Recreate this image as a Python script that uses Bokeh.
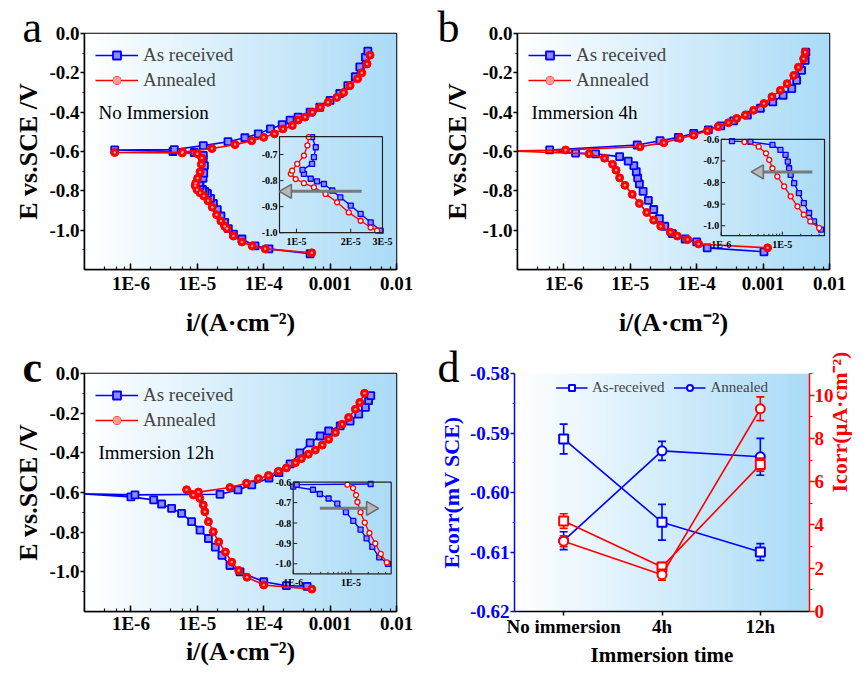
import numpy as np
from bokeh.plotting import figure
from bokeh.models import (Range1d, LogScale, LinearScale, LogAxis, LinearAxis, LogTicker,
                          SingleIntervalTicker, FixedTicker, CustomJSTickFormatter,
                          PrintfTickFormatter, Legend, LegendItem, Label)
from bokeh.layouts import column, row
from bokeh.embed import file_html
from bokeh.resources import INLINE
from bokeh.core.properties import value

FONT = "Liberation Serif"
BLUE = "#0000ff"
RED = "#ff0000"
GRAY = "#7a7a7a"
SQ_FILL = "#8c8cff"

# ---------------- data ----------------
# Panel a : no immersion
A_AR_I = [5.0e-4, 1.2e-4, 7.4e-5, 4.7e-5, 3.5e-5, 2.93e-5, 2.58e-5, 2.27e-5, 2.0e-5, 1.75e-5,
          1.58e-5, 1.42e-5, 1.3e-5, 1.2e-5, 1.1e-5, 1.08e-5, 1.22e-5, 1.25e-5, 1.28e-5, 1.22e-5,
          1.23e-5, 9.0e-6, 4.3e-6, 5.7e-7, 4.5e-6, 1.23e-5, 2.9e-5, 5.2e-5, 8.3e-5, 1.26e-4,
          1.9e-4, 2.5e-4, 3.3e-4, 5.0e-4, 7.0e-4, 1.0e-3, 1.4e-3, 1.85e-3, 2.4e-3, 2.8e-3,
          3.4e-3, 3.7e-3]
A_AR_E = [-1.12, -1.095, -1.08, -1.045, -1.02, -0.992, -0.96, -0.928, -0.896, -0.864,
          -0.838, -0.813, -0.803, -0.793, -0.774, -0.759, -0.736, -0.71, -0.672, -0.633,
          -0.62, -0.605, -0.60, -0.592, -0.59, -0.57, -0.55, -0.53, -0.51, -0.485,
          -0.463, -0.44, -0.425, -0.40, -0.375, -0.34, -0.305, -0.265, -0.22, -0.17,
          -0.12, -0.09]
A_AN_I = [5.3e-4, 1.05e-4, 6.7e-5, 4.7e-5, 3.5e-5, 2.8e-5, 2.58e-5, 2.27e-5, 1.95e-5, 1.68e-5,
          1.45e-5, 1.25e-5, 1.1e-5, 9.9e-6, 9.3e-6, 9.46e-6, 1.01e-5, 1.1e-5, 1.15e-5, 1.17e-5,
          1.0e-5, 5.9e-6, 5.7e-7, 6.0e-6, 1.66e-5, 3.7e-5, 6.6e-5, 1.0e-4, 1.45e-4, 1.95e-4,
          2.7e-4, 3.3e-4, 4.2e-4, 5.4e-4, 7.1e-4, 9.3e-4, 1.26e-3, 1.6e-3, 2.0e-3, 2.6e-3,
          3.0e-3, 3.6e-3, 4.0e-3]
A_AN_E = [-1.115, -1.095, -1.08, -1.06, -1.03, -0.992, -0.98, -0.954, -0.922, -0.883,
          -0.851, -0.826, -0.81, -0.794, -0.774, -0.762, -0.736, -0.704, -0.665, -0.633,
          -0.612, -0.607, -0.605, -0.603, -0.585, -0.565, -0.545, -0.528, -0.51, -0.485,
          -0.468, -0.44, -0.425, -0.40, -0.375, -0.35, -0.325, -0.30, -0.265, -0.23,
          -0.20, -0.155, -0.11]

# Panel b : immersion 4 h
B_AR_I = [1.03e-3, 1.44e-4, 1.0e-4, 6.7e-5, 4.3e-5, 3.3e-5, 2.74e-5, 2.25e-5, 1.87e-5, 1.56e-5,
          1.37e-5, 1.29e-5, 1.23e-5, 1.13e-5, 9.3e-6, 6.9e-6, 3.0e-6, 1.5e-6, 6.1e-7, 1.27e-5,
          2.8e-5, 5.3e-5, 9.0e-5, 1.5e-4, 2.3e-4, 3.6e-4, 5.8e-4, 9.1e-4, 1.4e-3, 2.0e-3,
          2.7e-3, 3.2e-3, 3.8e-3, 4.3e-3, 4.4e-3]
B_AR_E = [-1.11, -1.09, -1.06, -1.045, -1.018, -0.98, -0.941, -0.895, -0.849, -0.803,
          -0.765, -0.734, -0.703, -0.672, -0.649, -0.626, -0.612, -0.608, -0.592, -0.567,
          -0.545, -0.528, -0.508, -0.49, -0.47, -0.444, -0.415, -0.38, -0.348, -0.314,
          -0.28, -0.238, -0.187, -0.137, -0.095]
B_AN_I = [1.17e-3, 1.07e-4, 7.3e-5, 5.1e-5, 4.0e-5, 2.87e-5, 2.25e-5, 1.77e-5, 1.37e-5, 1.07e-5,
          8.3e-6, 6.9e-6, 6.1e-6, 5.4e-6, 4.1e-6, 2.4e-6, 1.5e-7, 1.06e-6, 1.4e-5, 3.2e-5,
          5.6e-5, 9.0e-5, 1.45e-4, 2.1e-4, 3.0e-4, 4.0e-4, 5.4e-4, 7.2e-4, 1.03e-3, 1.36e-3,
          1.82e-3, 2.3e-3, 2.9e-3, 3.4e-3, 4.07e-3, 4.3e-3]
B_AN_E = [-1.09, -1.07, -1.048, -1.03, -1.01, -0.98, -0.949, -0.91, -0.864, -0.818,
          -0.772, -0.734, -0.695, -0.665, -0.634, -0.612, -0.597, -0.592, -0.576, -0.555,
          -0.533, -0.517, -0.495, -0.474, -0.454, -0.432, -0.415, -0.39, -0.356, -0.322,
          -0.289, -0.255, -0.213, -0.171, -0.128, -0.095]

# Panel c : immersion 12 h
C_AR_I = [4.5e-4, 2.2e-4, 1.0e-4, 4.4e-5, 3.1e-5, 2.35e-5, 1.87e-5, 1.47e-5, 1.1e-5, 8.2e-6,
          5.8e-6, 4.1e-6, 2.9e-6, 2.2e-6, 1.0e-6, 1.5e-7, 1.15e-6, 2.2e-5, 4.1e-5, 6.6e-5,
          1.2e-4, 1.7e-4, 2.5e-4, 3.5e-4, 5.0e-4, 7.1e-4, 9.5e-4, 1.42e-3, 2.0e-3, 2.7e-3,
          3.4e-3, 3.8e-3, 4.1e-3]
C_AR_E = [-1.073, -1.07, -1.05, -1.0, -0.968, -0.917, -0.875, -0.832, -0.79, -0.747,
          -0.705, -0.68, -0.658, -0.637, -0.622, -0.605, -0.612, -0.609, -0.587, -0.562,
          -0.527, -0.50, -0.456, -0.40, -0.35, -0.315, -0.29, -0.264, -0.24, -0.205,
          -0.171, -0.137, -0.112]
C_AN_I = [5.3e-4, 1.0e-4, 5.6e-5, 4.2e-5, 3.3e-5, 2.65e-5, 2.1e-5, 1.74e-5, 1.47e-5, 1.3e-5,
          1.23e-5, 1.09e-5, 8.7e-6, 6.9e-6, 1.04e-5, 3.1e-5, 5.5e-5, 8.3e-5, 1.18e-4, 1.67e-4,
          2.2e-4, 3.0e-4, 3.7e-4, 4.7e-4, 6.0e-4, 7.6e-4, 9.5e-4, 1.2e-3, 1.52e-3, 1.9e-3,
          2.4e-3, 2.8e-3, 3.3e-3]
C_AN_E = [-1.087, -1.066, -1.027, -0.993, -0.951, -0.90, -0.849, -0.798, -0.747, -0.697,
          -0.663, -0.629, -0.612, -0.586, -0.598, -0.575, -0.553, -0.53, -0.514, -0.493,
          -0.476, -0.45, -0.429, -0.407, -0.386, -0.361, -0.332, -0.298, -0.256, -0.222,
          -0.18, -0.146, -0.10]

# inset tick values / labels
INSET_A_XTICKS = [1e-5, 2e-5, 3e-5]
INSET_A_XLABELS = ["1E-5", "2E-5", "3E-5"]
INSET_A_YTICKS = [-0.7, -0.8, -0.9, -1.0]
INSET_A_YLABELS = ["-0.7", "-0.8", "-0.9", "-1.0"]
INSET_BC_XTICKS = [1e-6, 1e-5]
INSET_BC_XLABELS = ["1E-6", "1E-5"]
INSET_BC_XMINOR = [2e-6, 3e-6, 4e-6, 5e-6, 6e-6, 7e-6, 8e-6, 9e-6, 2e-5, 3e-5, 4e-5]
INSET_BC_YTICKS = [-0.6, -0.7, -0.8, -0.9, -1.0]
INSET_BC_YLABELS = ["-0.6", "-0.7", "-0.8", "-0.9", "-1.0"]

# Panel d : corrosion parameters
TIMES = ["No immersion", "4h", "12h"]
ECORR_AR = [-0.5910, -0.6050, -0.6100]
ECORR_AR_ERR = [0.0025, 0.0030, 0.0014]
ECORR_AN = [-0.6081, -0.5930, -0.5940]
ECORR_AN_ERR = [0.0015, 0.0016, 0.0031]
ICORR_AR = [4.18, 2.06, 6.79]
ICORR_AR_ERR = [0.34, 0.20, 0.30]
ICORR_AN = [3.25, 1.70, 9.37]
ICORR_AN_ERR = [0.25, 0.25, 0.55]

# ---------------- helpers ----------------
LOG_JS = """
const e = Math.round(Math.log10(tick));
if (e >= -3) { return Math.pow(10, e).toFixed(-e); }
return "1E" + e;
"""


def gradient():
    n = 256
    t = np.linspace(0.0, 1.0, n)
    img = np.empty((1, n), dtype=np.uint32)
    v = img.view(dtype=np.uint8).reshape((1, n, 4))
    v[0, :, 0] = np.round(255 + (170 - 255) * t).astype(np.uint8)
    v[0, :, 1] = np.round(255 + (219 - 255) * t).astype(np.uint8)
    v[0, :, 2] = np.round(255 + (247 - 255) * t).astype(np.uint8)
    v[0, :, 3] = 255
    return img


def style_axis(ax, color="black", tick_size="19px", label_size="26px"):
    ax.major_label_text_font = FONT
    ax.major_label_text_font_style = "bold"
    ax.major_label_text_font_size = tick_size
    ax.major_label_text_color = color
    ax.axis_label_text_font = FONT
    ax.axis_label_text_font_style = "bold"
    ax.axis_label_text_font_size = label_size
    ax.axis_label_text_color = color
    ax.axis_line_color = color
    ax.axis_line_width = 1.5
    ax.major_tick_line_color = color
    ax.major_tick_line_width = 1.5
    ax.minor_tick_line_color = color
    ax.minor_tick_line_width = 1.2


def set_letter(p, letter, style, dx):
    t = p.title
    t.text = letter
    t.align = "left"
    t.offset = dx
    t.vertical_align = "bottom"
    t.text_font = FONT
    t.text_font_size = "44px"
    t.text_font_style = style
    t.text_color = "black"
    try:
        t.standoff = -37
    except Exception:
        t.standoff = 0


def inset(p, xr, yr, xt, yt, curves, xticks, xlabels, yticks, ylabels, xminor, arrow):
    # decades are laid out linearly inside the inset box (log axis of the inset)
    lx = (np.log10(xr[0]), np.log10(xr[1]))
    sub = p.subplot(x_source=Range1d(*lx), y_source=Range1d(*yr),
                    x_scale=LinearScale(), y_scale=LinearScale(),
                    x_target=Range1d(*xt), y_target=Range1d(*yt))
    for (ci, ce, color, marker) in curves:
        ci = np.asarray(ci, dtype=float)
        ce = np.asarray(ce, dtype=float)
        inside = (ci >= xr[0]) & (ci <= xr[1]) & (ce >= yr[0]) & (ce <= yr[1])
        xi = np.where(inside, np.log10(ci), np.nan)
        ye = np.where(inside, ce, np.nan)
        sub.line(xi, ye, line_color=color, line_width=1.3)
        if marker == "square":
            sub.scatter(xi, ye, marker="square", size=5, line_color=color,
                        fill_color=SQ_FILL, line_width=1.3)
        else:
            sub.scatter(xi, ye, marker="circle", size=5, line_color=color,
                        fill_color="white", line_width=1.3)
    sub.quad(left=[lx[0]], right=[lx[1]], bottom=[yr[0]], top=[yr[1]],
             fill_color=None, line_color="#222222", line_width=1.2)
    lt = list(np.log10(xticks))
    sub.ray(x=[lx[0]] * len(yticks), y=yticks, length=4, length_units="screen",
            angle=0.0, line_color="#222222", line_width=1)
    sub.ray(x=lt, y=[yr[0]] * len(lt), length=4, length_units="screen",
            angle=np.pi / 2, line_color="#222222", line_width=1)
    if xminor:
        lm = list(np.log10(xminor))
        sub.ray(x=lm, y=[yr[0]] * len(lm), length=2, length_units="screen",
                angle=np.pi / 2, line_color="#222222", line_width=1)
    sub.text(x=[lx[0]] * len(yticks), y=yticks, text=ylabels, x_offset=-2,
             text_align="right", text_baseline="middle", text_font=value(FONT),
             text_font_size="10px", text_font_style="bold", text_color="black")
    sub.text(x=lt, y=[yr[0]] * len(lt), text=xlabels, y_offset=3,
             text_align="center", text_baseline="top", text_font=value(FONT),
             text_font_size="10px", text_font_style="bold", text_color="black")
    x0, x1, ya, ang = arrow
    sub.segment(x0=[np.log10(x0)], y0=[ya], x1=[np.log10(x1)], y1=[ya],
                line_color=GRAY, line_width=3)
    sub.scatter(x=[np.log10(x1)], y=[ya], marker="triangle", size=14, angle=ang,
                fill_color="#b8b8b8", line_color="#6a6a6a", line_width=1.5)


def pol_panel(letter, letter_style, letter_dx, cond, ar_i, ar_e, an_i, an_e, ins,
              w, h, bl, br, bt, bb, ylab_standoff, xtick_standoff, xlab_standoff):
    p = figure(width=w, height=h, x_range=Range1d(0, 1), y_range=Range1d(-1.2, 0.0),
               x_axis_location=None, output_backend="svg", toolbar_location=None,
               min_border_left=bl, min_border_right=br, min_border_top=bt,
               min_border_bottom=bb)
    p.extra_x_ranges = {"log": Range1d(2e-7, 1e-2)}
    p.extra_x_scales = {"log": LogScale()}
    p.grid.grid_line_color = None
    p.outline_line_color = "black"
    p.outline_line_width = 1.5
    p.border_fill_color = "white"
    p.image_rgba(image=[gradient()], x=0, y=-1.2, dw=1, dh=1.2, level="image")

    xa = LogAxis(x_range_name="log", ticker=LogTicker(),
                 formatter=CustomJSTickFormatter(code=LOG_JS), axis_label="i/(A·cm⁻²)")
    p.add_layout(xa, "below")
    style_axis(xa)
    xa.major_tick_in = 6
    xa.major_tick_out = 0
    xa.minor_tick_in = 3
    xa.minor_tick_out = 0
    xa.major_label_standoff = xtick_standoff
    xa.axis_label_standoff = xlab_standoff

    ya = p.yaxis[0]
    ya.ticker = SingleIntervalTicker(interval=0.2, num_minor_ticks=2)
    ya.formatter = PrintfTickFormatter(format="%.1f")
    ya.axis_label = "E vs.SCE /V"
    style_axis(ya)
    ya.major_tick_out = 4
    ya.major_tick_in = 0
    ya.minor_tick_out = 2
    ya.minor_tick_in = 0
    ya.major_label_standoff = 1
    ya.axis_label_standoff = ylab_standoff

    lb = p.line(ar_i, ar_e, x_range_name="log", line_color=BLUE, line_width=1.6)
    sb = p.scatter(ar_i, ar_e, x_range_name="log", marker="square", size=7,
                   line_color=BLUE, fill_color=SQ_FILL, line_width=1.8)
    lr = p.line(an_i, an_e, x_range_name="log", line_color=RED, line_width=1.6)
    sr = p.scatter(an_i, an_e, x_range_name="log", marker="circle", size=8,
                   line_color=RED, fill_color=RED, line_width=1)
    sr2 = p.scatter(an_i, an_e, x_range_name="log", marker="circle", size=2.5,
                    line_color=None, fill_color="#ff9a9a")

    leg = Legend(items=[LegendItem(label="As received", renderers=[lb, sb]),
                        LegendItem(label="Annealed", renderers=[lr, sr, sr2])],
                 location="top_left", margin=11, padding=0, spacing=3,
                 glyph_width=43, glyph_height=20, label_height=20, label_standoff=5,
                 label_text_font=FONT, label_text_font_size="19px",
                 background_fill_alpha=0, border_line_alpha=0)
    p.add_layout(leg)

    set_letter(p, letter, letter_style, letter_dx)
    p.add_layout(Label(x=0, y=-0.4, x_offset=14, text=cond, text_font=FONT,
                       text_font_size="19px", text_baseline="middle", text_align="left",
                       text_color="black"))

    xr, yr, xt, yt, xticks, xlabels, yticks, ylabels, xminor, arrow = ins
    inset(p, xr, yr, xt, yt,
          [(ar_i, ar_e, BLUE, "square"), (an_i, an_e, RED, "circle")],
          xticks, xlabels, yticks, ylabels, xminor, arrow)
    return p


pa = pol_panel("a", "normal", -62, "No Immersion", A_AR_I, A_AR_E, A_AN_I, A_AN_E,
               ((8.05e-6, 3.0e-5), (-1.0, -0.631), (0.625, 0.955), (-1.013, -0.524),
                INSET_A_XTICKS, INSET_A_XLABELS, INSET_A_YTICKS, INSET_A_YLABELS, None,
                (2.3e-5, 8.9e-6, -0.841, np.pi / 2)),
               430, 340, 84, 34, 33, 71, 3, 3, 11)
pb = pol_panel("b", "normal", -80, "Immersion 4h", B_AR_I, B_AR_E, B_AN_I, B_AN_E,
               ((1.0e-6, 4.9e-5), (-1.046, -0.6), (0.653, 0.984), (-1.028, -0.538),
                INSET_BC_XTICKS, INSET_BC_XLABELS, INSET_BC_YTICKS, INSET_BC_YLABELS,
                INSET_BC_XMINOR, (3.1e-5, 4.2e-6, -0.751, np.pi / 2)),
               437, 340, 87, 38, 33, 70, 7, 3, 11)
pc = pol_panel("c", "bold", -62, "Immersion 12h", C_AR_I, C_AR_E, C_AN_I, C_AN_E,
               ((1.0e-6, 5.0e-5), (-1.049, -0.6), (0.669, 0.983), (-1.010, -0.548),
                INSET_BC_XTICKS, INSET_BC_XLABELS, INSET_BC_YTICKS, INSET_BC_YLABELS,
                INSET_BC_XMINOR, (2.9e-6, 2.2e-5, -0.728, -np.pi / 2)),
               430, 334, 84, 34, 33, 63, 3, 1, 0)

# ---------------- panel d ----------------
XPOS = list(range(len(TIMES)))
pdd = figure(width=437, height=334, x_range=Range1d(-0.5, len(TIMES) - 0.5),
             y_range=Range1d(-0.62, -0.58), output_backend="svg", toolbar_location=None,
             min_border_left=84, min_border_right=58, min_border_top=33, min_border_bottom=63)
pdd.extra_y_ranges = {"icorr": Range1d(0, 11)}
pdd.grid.grid_line_color = None
pdd.outline_line_color = None
pdd.border_fill_color = "white"
pdd.image_rgba(image=[gradient()], x=-0.5, y=-0.62, dw=len(TIMES), dh=0.04, level="image")

ax = pdd.xaxis[0]
ax.ticker = FixedTicker(ticks=XPOS)
ax.major_label_overrides = {i: t for i, t in zip(XPOS, TIMES)}
style_axis(ax, tick_size="19px", label_size="21px")
ax.axis_label = "Immersion time"
ax.major_tick_out = 4
ax.major_tick_in = 0
ax.minor_tick_out = 0
ax.minor_tick_in = 0
ax.major_label_standoff = 0
ax.axis_label_standoff = 3

ly = pdd.yaxis[0]
ly.ticker = SingleIntervalTicker(interval=0.01, num_minor_ticks=2)
ly.formatter = PrintfTickFormatter(format="%.2f")
ly.axis_label = "Ecorr(mV SCE)"
style_axis(ly, color=BLUE, tick_size="19px", label_size="22px")
ly.major_tick_out = 4
ly.major_tick_in = 0
ly.minor_tick_out = 2
ly.minor_tick_in = 0
ly.major_label_standoff = 1
ly.axis_label_standoff = 3

ry = LinearAxis(y_range_name="icorr", ticker=SingleIntervalTicker(interval=2, num_minor_ticks=2),
                axis_label="Icorr(μA·cm⁻²)")
pdd.add_layout(ry, "right")
style_axis(ry, color=RED, tick_size="19px", label_size="22px")
ry.major_tick_out = 5
ry.major_tick_in = 0
ry.minor_tick_out = 3
ry.minor_tick_in = 0
ry.major_label_standoff = 0
ry.axis_label_standoff = 3
try:
    ry.axis_label_orientation = np.pi / 2
except Exception:
    pass


def err_series(p, vals, errs, color, marker, range_name=None):
    lo = [v - e for v, e in zip(vals, errs)]
    hi = [v + e for v, e in zip(vals, errs)]
    kw = {"y_range_name": range_name} if range_name else {}
    ln = p.line(XPOS, vals, line_color=color, line_width=1.6, **kw)
    p.segment(x0=XPOS, y0=lo, x1=XPOS, y1=hi, line_color=color, line_width=1.6, **kw)
    p.scatter(XPOS, lo, marker="dash", size=8, line_color=color, line_width=1.6, **kw)
    p.scatter(XPOS, hi, marker="dash", size=8, line_color=color, line_width=1.6, **kw)
    mk = p.scatter(XPOS, vals, marker=marker, size=9, line_color=color, fill_color="white",
                   line_width=2, **kw)
    return ln, mk


l1, m1 = err_series(pdd, ECORR_AR, ECORR_AR_ERR, BLUE, "square")
l2, m2 = err_series(pdd, ECORR_AN, ECORR_AN_ERR, BLUE, "circle")
err_series(pdd, ICORR_AR, ICORR_AR_ERR, RED, "square", "icorr")
err_series(pdd, ICORR_AN, ICORR_AN_ERR, RED, "circle", "icorr")

legd = Legend(items=[LegendItem(label="As-received", renderers=[l1, m1]),
                     LegendItem(label="Annealed", renderers=[l2, m2])],
              location="top_center", orientation="horizontal", margin=6, padding=0,
              spacing=9, glyph_width=32, glyph_height=15, label_height=15, label_standoff=5,
              label_text_font=FONT, label_text_font_size="15px",
              background_fill_alpha=0, border_line_alpha=0)
pdd.add_layout(legd)
set_letter(pdd, "d", "normal", -77)

layout = column(row(pa, pb), row(pc, pdd))
open("out.html", "w").write(file_html(layout, INLINE))
